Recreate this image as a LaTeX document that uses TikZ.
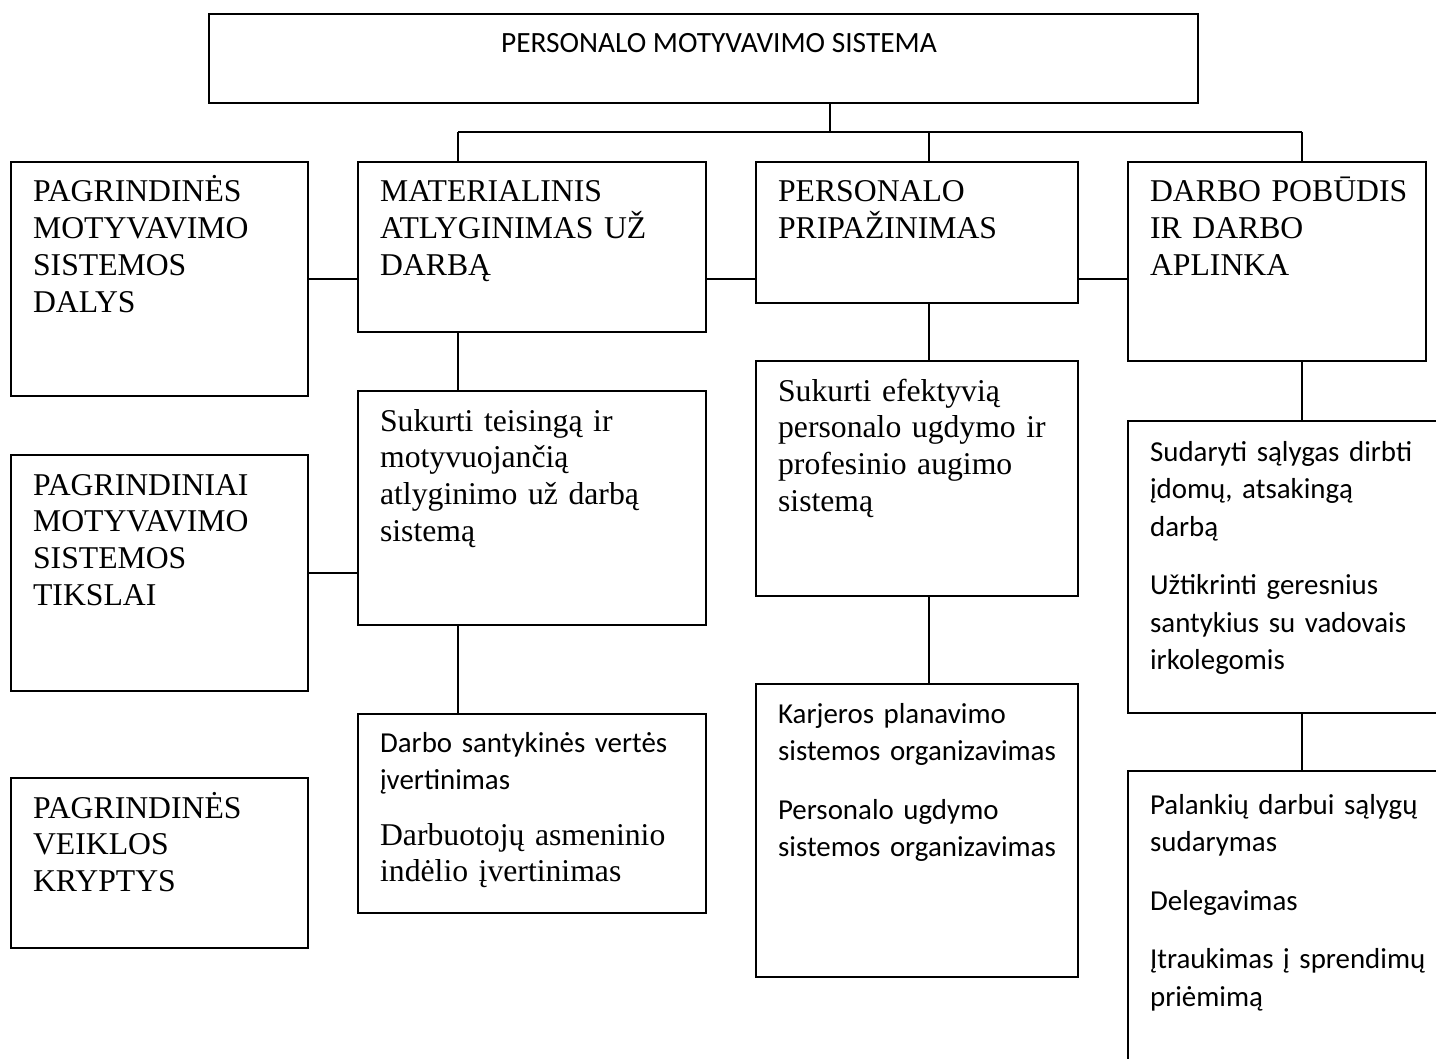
\documentclass[tikz,border=0pt]{standalone}
\usepackage{fontspec}
\setmainfont{Liberation Serif}
\newfontfamily\calibri{Carlito}

\begin{document}
\begin{tikzpicture}[x=0.5pt, y=-0.5pt, line width=1.1pt,
  cell/.style={draw, anchor=north west, inner sep=0pt, outer sep=0pt},
  sz/.style 2 args={minimum width=#1*0.5pt, minimum height=#2*0.5pt},
  serif/.style={anchor=base west, inner sep=0pt, align=left, text width=#1*0.5pt,
    font=\fontsize{15.85}{18.35}\selectfont},
  sans/.style={anchor=base west, inner sep=0pt, align=left, text width=#1*0.5pt,
    font=\calibri\fontsize{14.45}{18.75}\selectfont}]
  \useasboundingbox (0,0) rectangle (1436,1059);
  \clip (0,0) rectangle (1436,1059);

  % top
  \node[cell, sz={989}{89}] (top) at (209,14) {};
  \node[anchor=base west, inner sep=0pt, font=\calibri\fontsize{14.7}{17}\selectfont] (top-t) at (500,53) {PERSONALO MOTYVAVIMO SISTEMA};

  % left column
  \node[cell, sz={297}{234}] (dalys) at (11,162) {};
  \node[serif=270] (dalys-t) at ([shift={(21,40)}]dalys.north west) {PAGRINDINĖS\\MOTYVAVIMO\\SISTEMOS\\DALYS};
  \node[cell, sz={297}{236}] (tiks) at (11,455) {};
  \node[serif=270] (tiks-t) at ([shift={(21,40)}]tiks.north west) {PAGRINDINIAI\\MOTYVAVIMO\\SISTEMOS\\TIKSLAI};
  \node[cell, sz={297}{170}] (kryp) at (11,778) {};
  \node[serif=270] (kryp-t) at ([shift={(21,40)}]kryp.north west) {PAGRINDINĖS\\VEIKLOS\\KRYPTYS};

  % row 1
  \node[cell, sz={348}{170}] (mat) at (358,162) {};
  \node[serif=320] (mat-t) at ([shift={(21,40)}]mat.north west) {MATERIALINIS\\ATLYGINIMAS UŽ\\DARBĄ};
  \node[cell, sz={322}{141}] (pers) at (756,162) {};
  \node[serif=300] (pers-t) at ([shift={(21,40)}]pers.north west) {PERSONALO\\PRIPAŽINIMAS};
  \node[cell, sz={298}{199}] (darb) at (1128,162) {};
  \node[serif=280] (darb-t) at ([shift={(21,40)}]darb.north west) {DARBO POBŪDIS\\IR DARBO\\APLINKA};

  % row 2
  \node[cell, sz={348}{234}] (teis) at (358,391) {};
  \node[serif=320] (teis-t) at ([shift={(21,40)}]teis.north west) {Sukurti teisingą ir\\motyvuojančią\\atlyginimo už darbą\\sistemą};
  \node[cell, sz={322}{235}] (efek) at (756,361) {};
  \node[serif=300] (efek-t) at ([shift={(21,40)}]efek.north west) {Sukurti efektyvią\\personalo ugdymo ir\\profesinio augimo\\sistemą};
  \node[cell, sz={330}{292}] (salyg) at (1128,421) {};
  \node[sans=300] (salyg-t) at ([shift={(21,40)}]salyg.north west) {Sudaryti sąlygas dirbti\\įdomų, atsakingą\\darbą\\[10.5pt]Užtikrinti geresnius\\santykius su vadovais\\irkolegomis};

  % row 3
  \node[cell, sz={348}{199}] (verte) at (358,714) {};
  \node[sans=320] (verte-t) at ([shift={(21,38)}]verte.north west) {Darbo santykinės vertės\\įvertinimas};
  \node[serif=320] (verte-t2) at ([shift={(21,131)}]verte.north west) {Darbuotojų asmeninio\\indėlio įvertinimas};
  \node[cell, sz={322}{293}] (karj) at (756,684) {};
  \node[sans=300] (karj-t) at ([shift={(21,39)}]karj.north west) {Karjeros planavimo\\sistemos organizavimas\\[10.5pt]Personalo ugdymo\\sistemos organizavimas};
  \node[cell, sz={330}{320}] (palank) at (1128,771) {};
  \node[sans=300] (palank-t) at ([shift={(21,43)}]palank.north west) {Palankių darbui sąlygų\\sudarymas\\[10.5pt]Delegavimas\\[10.5pt]Įtraukimas į sprendimų\\priėmimą};

  % connectors
  \coordinate (hub) at (830,132);
  \coordinate (bm) at (458,132);
  \coordinate (bp) at (929,132);
  \coordinate (bd) at (1302,132);
  \draw (hub |- top.south) -- (hub);
  \draw (bm) -- (bd);
  \draw (bm) -- (bm |- mat.north);
  \draw (bp) -- (bp |- pers.north);
  \draw (bd) -- (bd |- darb.north);
  \draw (bm |- mat.south) -- (bm |- teis.north);
  \draw (bm |- teis.south) -- (bm |- verte.north);
  \draw (bp |- pers.south) -- (bp |- efek.north);
  \draw (bp |- efek.south) -- (bp |- karj.north);
  \draw (bd |- darb.south) -- (bd |- salyg.north);
  \draw (bd |- salyg.south) -- (bd |- palank.north);
  \draw (dalys.east) -- (dalys.east -| mat.west);
  \draw (mat.east |- dalys.east) -- (pers.west |- dalys.east);
  \draw (pers.east |- dalys.east) -- (darb.west |- dalys.east);
  \draw (tiks.east) -- (tiks.east -| teis.west);
\end{tikzpicture}
\end{document}
